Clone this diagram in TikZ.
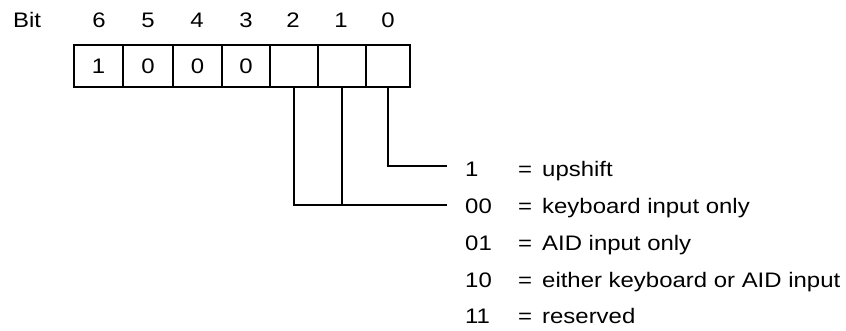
\documentclass[tikz,border=0pt]{standalone}
\usepackage{fontspec}
\setmainfont{Liberation Sans}[FakeStretch=1.14]
\begin{document}
\begin{tikzpicture}[x=1pt,y=-1pt,
  txt/.style={inner sep=0pt,font=\fontsize{21}{24}\selectfont},
  cell/.style={draw,line width=1.7pt,minimum height=42pt,inner sep=0pt,font=\fontsize{21}{24}\selectfont},
  wire/.style={line width=1.7pt}]
\useasboundingbox (0,0) rectangle (846,330);
% header
\node[txt,anchor=base west] (bit) at (13,27) {Bit};
\foreach \i/\c in {6/99,5/148,4/197,3/246,2/293,1/341,0/388}{
  \node[txt,anchor=base] (h\i) at (\c,27) {\i};
}
% cells
\node[cell,minimum width=49pt] (c6) at (98.5,66) {1};
\node[cell,minimum width=50pt] (c5) at (148,66) {0};
\node[cell,minimum width=49pt] (c4) at (197.5,66) {0};
\node[cell,minimum width=48pt] (c3) at (246,66) {0};
\node[cell,minimum width=48pt] (c2) at (294,66) {};
\node[cell,minimum width=48pt] (c1) at (342,66) {};
\node[cell,minimum width=44pt] (c0) at (388,66) {};
% legend
\foreach \n/\code/\desc/\y in {r1/1/upshift/176, r2/00/keyboard input only/213, r3/01/AID input only/250, r4/10/either keyboard or AID input/287, r5/11/reserved/323}{
  \node[txt,anchor=base west] (\n c) at (465,\y) {\code};
  \node[txt,anchor=base west] (\n e) at (518,\y) {=};
  \node[txt,anchor=base west] (\n d) at (542,\y) {\desc};
}
\coordinate (e1) at (447,166);
\coordinate (e2) at (447,205);
% connectors
\draw[wire] (c0.south) |- (e1);
\draw[wire] (c2.south) |- (e2);
\draw[wire] (c1.south) -- (c1.south |- e2);
\end{tikzpicture}
\end{document}
